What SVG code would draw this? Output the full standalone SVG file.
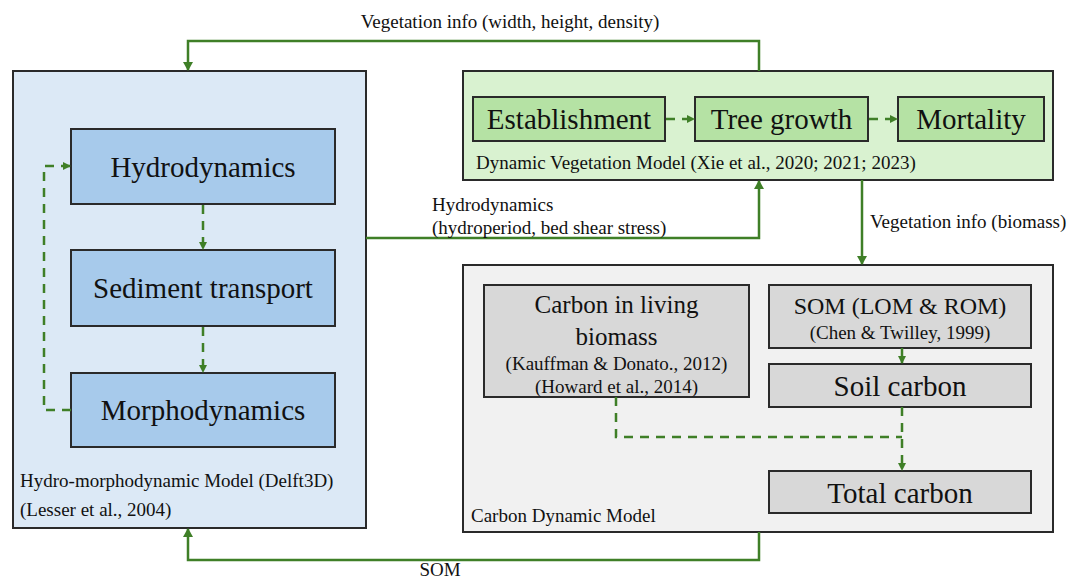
<svg xmlns="http://www.w3.org/2000/svg" width="1071" height="579" viewBox="0 0 1071 579" font-family="'Liberation Serif', 'Times New Roman', Times, serif">
<defs>
<marker id="ah" markerWidth="10" markerHeight="10" refX="8" refY="5" orient="auto" markerUnits="userSpaceOnUse">
<path d="M0,0 L9,5 L0,10 Z" fill="#3f7f27"/>
</marker>
<marker id="ahs" markerWidth="8" markerHeight="8" refX="7" refY="4" orient="auto" markerUnits="userSpaceOnUse">
<path d="M0,0 L8,4 L0,8 Z" fill="#3f7f27"/>
</marker>
</defs>
<style>
text{font-family:'Liberation Serif','Times New Roman',Times,serif;fill:#111;}
.big{font-size:29px;}
.mid{font-size:24px;}
.sm{font-size:19px;}
.c{text-anchor:middle;}
.frame{stroke:#2a2a2a;stroke-width:2;}
.line{fill:none;stroke:#3f7f27;stroke-width:2.5;}
.dash{fill:none;stroke:#3f7f27;stroke-width:2.5;stroke-dasharray:9,7;}
</style>
<rect width="1071" height="579" fill="#ffffff"/>

<g id="hydro-model">
<rect class="frame" x="13" y="71" width="353" height="457" fill="#dce9f6"/>
<text class="sm" x="20" y="487">Hydro-morphodynamic Model (Delft3D)</text>
<text class="sm" x="20" y="516">(Lesser et al., 2004)</text>
</g>
<g id="hydrodynamics">
<rect class="frame" x="71" y="129" width="264" height="75" fill="#a7caeb"/>
<text class="big c" x="203" y="177">Hydrodynamics</text>
</g>
<g id="sediment">
<rect class="frame" x="71" y="250" width="264" height="76" fill="#a7caeb"/>
<text class="big c" x="203" y="298">Sediment transport</text>
</g>
<g id="morpho">
<rect class="frame" x="71" y="373" width="264" height="74" fill="#a7caeb"/>
<text class="big c" x="203" y="420">Morphodynamics</text>
</g>

<g id="veg-model">
<rect class="frame" x="463" y="71" width="590" height="109" fill="#d9f2d0"/>
<text class="sm" x="476" y="169">Dynamic Vegetation Model (Xie et al., 2020; 2021; 2023)</text>
</g>
<g id="establishment">
<rect class="frame" x="473" y="97" width="192" height="44" fill="#b5e2a4"/>
<text class="big c" x="569" y="129">Establishment</text>
</g>
<g id="treegrowth">
<rect class="frame" x="695" y="97" width="173" height="44" fill="#b5e2a4"/>
<text class="big c" x="781.5" y="129">Tree growth</text>
</g>
<g id="mortality">
<rect class="frame" x="898" y="97" width="146" height="44" fill="#b5e2a4"/>
<text class="big c" x="971" y="129">Mortality</text>
</g>

<g id="carbon-model">
<rect class="frame" x="463" y="265" width="590" height="267" fill="#f1f1f1"/>
<text class="sm" x="471" y="522">Carbon Dynamic Model</text>
</g>
<g id="living">
<rect class="frame" x="484" y="285" width="265" height="112" fill="#d8d8d8"/>
<text class="c" x="616.5" y="313" font-size="25">Carbon in living</text>
<text class="c" x="616.5" y="345" font-size="25">biomass</text>
<text class="sm c" x="616.5" y="370">(Kauffman &amp; Donato., 2012)</text>
<text class="sm c" x="616.5" y="393">(Howard et al., 2014)</text>
</g>
<g id="som">
<rect class="frame" x="769" y="285" width="262" height="63" fill="#d8d8d8"/>
<text class="mid c" x="900" y="314">SOM (LOM &amp; ROM)</text>
<text class="sm c" x="900" y="339">(Chen &amp; Twilley, 1999)</text>
</g>
<g id="soil">
<rect class="frame" x="769" y="364" width="262" height="43" fill="#d8d8d8"/>
<text class="big c" x="900" y="396">Soil carbon</text>
</g>
<g id="total">
<rect class="frame" x="769" y="471" width="262" height="42" fill="#d8d8d8"/>
<text class="big c" x="900" y="503">Total carbon</text>
</g>

<g id="connectors">
<path class="line" d="M759,71 V41 H188 V70" marker-end="url(#ah)"/>
<text class="sm c" x="510" y="28">Vegetation info (width, height, density)</text>
<path class="line" d="M366,238 H759 V181" marker-end="url(#ah)"/>
<text class="sm" x="432" y="211">Hydrodynamics</text>
<text class="sm" x="432" y="234">(hydroperiod, bed shear stress)</text>
<path class="line" d="M862,180 V264" marker-end="url(#ah)"/>
<text class="sm" x="870" y="228">Vegetation info (biomass)</text>
<path class="line" d="M759,532 V560 H188 V529" marker-end="url(#ah)"/>
<text class="sm c" x="440" y="576">SOM</text>

<path class="dash" d="M203,205 V249" marker-end="url(#ahs)"/>
<path class="dash" d="M203,327 V372" marker-end="url(#ahs)"/>
<path class="dash" d="M71,410 H44 V166 H70" marker-end="url(#ahs)"/>
<path class="dash" d="M666,119 H694" marker-end="url(#ahs)"/>
<path class="dash" d="M869,119 H897" marker-end="url(#ahs)"/>
<path class="line" d="M902,348 V363" marker-end="url(#ahs)"/>
<path class="dash" d="M616,397 V437 H902"/>
<path class="dash" d="M902,407 V470" marker-end="url(#ahs)"/>
</g>
</svg>
